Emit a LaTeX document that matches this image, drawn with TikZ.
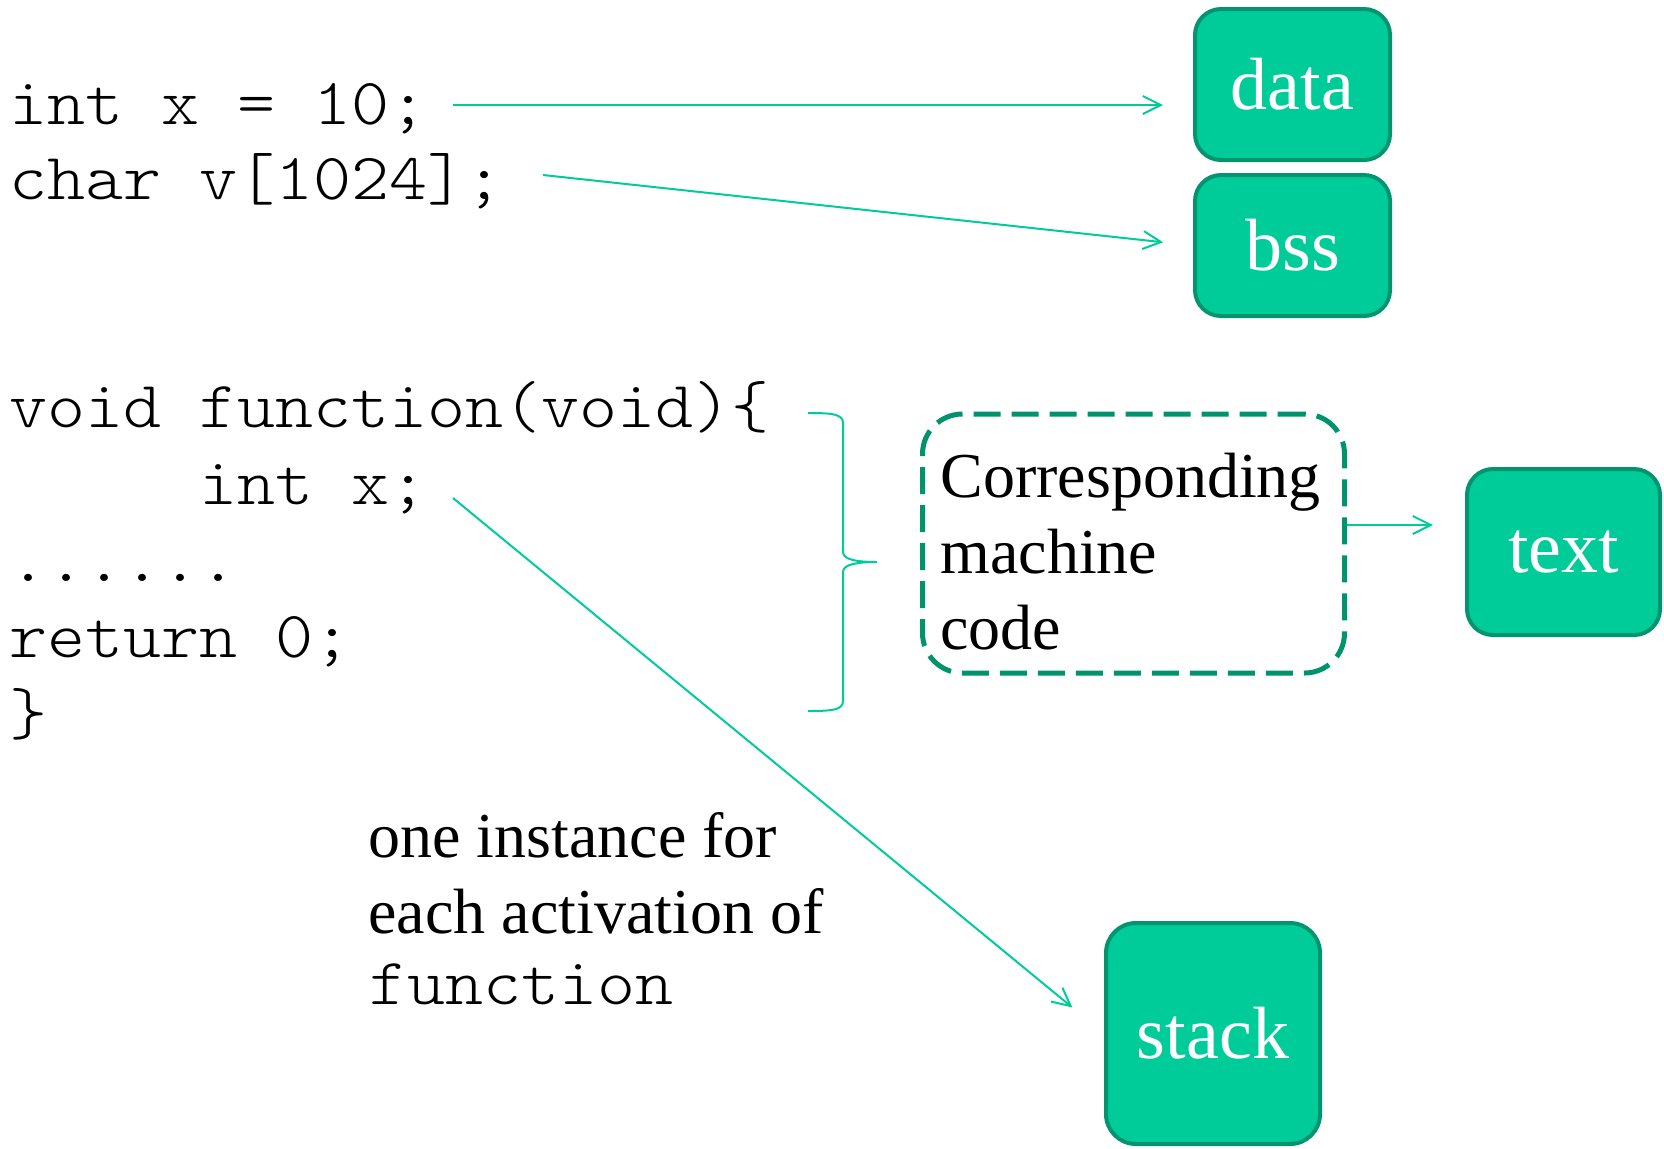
\documentclass[tikz,border=0pt]{standalone}
\usepackage{fontspec}
\setmainfont{Liberation Serif}
\setmonofont{lmmonolt10-regular.otf}[FakeStretch=1.097]
\usetikzlibrary{arrows.meta}
\definecolor{segfill}{HTML}{00CC99}
\definecolor{segedge}{HTML}{00956F}
\definecolor{linkgreen}{HTML}{00CC99}
\definecolor{dashgreen}{HTML}{00936C}
\begin{document}
\begin{tikzpicture}[x=0.5pt,y=-0.5pt,
  segment/.style={draw=segedge, line width=2pt, fill=segfill, rounded corners=13pt,
    text=white, inner sep=0pt, font=\fontsize{37pt}{44pt}\selectfont},
  code/.style={anchor=base west, inner sep=0pt, font=\ttfamily\fontsize{33pt}{39pt}\selectfont},
  prose/.style={anchor=base west, inner sep=0pt, font=\fontsize{32pt}{38.4pt}\selectfont},
  link/.style={draw=linkgreen, line width=1pt, -{Straight Barb[length=9pt,width=9pt]}},
]
\useasboundingbox (0,0) rectangle (1664,1148);

% memory segments
\node[segment, minimum width=97.5pt, minimum height=75.5pt] (data)  at (1292.5,84.5)  {data};
\node[segment, minimum width=97.5pt, minimum height=70.5pt] (bss)   at (1292.5,245.5) {bss};
\node[segment, minimum width=96.5pt, minimum height=83pt]   (text)  at (1563.5,552)   {text};
\node[segment, minimum width=107pt,  minimum height=110.5pt, rounded corners=15pt] (stack) at (1213,1033.5) {stack};

% global declarations
\node[code] (c1) at (9,124)   {int x = 10;};
\node[code] (c2) at (9,199.5) {char v[1024];};

% function body
\node[code] (f1) at (9,427)   {void function(void)\{};
\node[code] (f2) at (199,504) {int x;};
\node[code] (f3) at (9,581)   {......};
\node[code] (f4) at (9,657)   {return 0;};
\node[code] (f5) at (9,734)   {\}};

% brace grouping the function body
\draw[linkgreen, line width=1pt]
  (808,413) .. controls (832,413) and (843,414) .. (843,423) -- (843,552)
  .. controls (843,560) and (858,562) .. (877,562)
  .. controls (858,562) and (843,564) .. (843,572) -- (843,701)
  .. controls (843,710) and (832,711) .. (808,711);

% machine code box
\node[draw=dashgreen, line width=2.5pt, dash pattern=on 13.5pt off 5.5pt,
      rounded corners=20pt, minimum width=211pt, minimum height=129.5pt] (mc) at (1133.5,543.5) {};
\node[prose] (mc1) at (940,497) {Corresponding};
\node[prose] (mc2) at (940,573) {machine};
\node[prose] (mc3) at (940,649) {code};

% note on the local variable
\node[prose] (n1) at (368,857)  {one instance for};
\node[prose] (n2) at (368,933)  {each activation of};
\node[code]  (n3) at (369,1004) {function};

% connectors
\coordinate (s1) at (453,105);
\coordinate (s2) at (543,175);
\coordinate (s3) at (453,498);
\draw[link, shorten >=15pt] (s1) -- (s1 -| data.west);
\draw[link, shorten >=15pt] (s2) -- (bss.west);
\draw[link, shorten >=16pt] ([yshift=9.25pt]mc.east) -- ([yshift=9.25pt]mc.east -| text.west);
\draw[link, shorten >=20.5pt] (s3) -- (stack.west);
\end{tikzpicture}
\end{document}
